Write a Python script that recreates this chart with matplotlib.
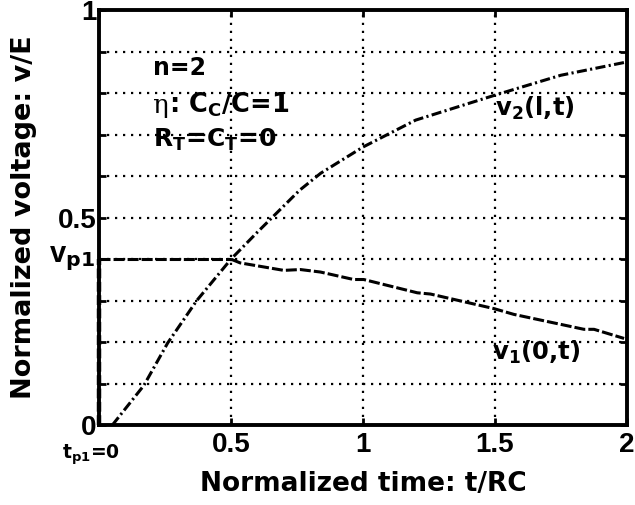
import numpy as np
import matplotlib
matplotlib.use("Agg")
import matplotlib.pyplot as plt
import matplotlib.transforms as mtransforms

# ---------------- DATA ----------------
# v2(l,t): far-end voltage
t_v2 = [0.05, 0.10, 0.17, 0.26, 0.37, 0.50, 0.60, 0.76, 0.84, 1.00, 1.20, 1.50, 1.75, 2.00]
v_v2 = [0.000, 0.040, 0.096, 0.198, 0.300, 0.400, 0.465, 0.566, 0.607, 0.670, 0.735, 0.795, 0.843, 0.875]

# v1(0,t): near-end voltage
t_v1 = [0.50, 0.535, 0.70, 0.763, 0.839, 0.965, 1.003, 1.206, 1.256, 1.496, 1.572, 1.838, 1.876, 1.99]
v_v1 = [0.400, 0.391, 0.373, 0.375, 0.369, 0.351, 0.351, 0.319, 0.316, 0.281, 0.267, 0.231, 0.231, 0.209]

t_p1 = 0.0
v_p1 = 0.4
t_cross = 0.5

x_ticks = [0, 0.5, 1, 1.5, 2]
x_ticklabels = ["", "0.5", "1", "1.5", "2"]
y_ticks = [0, 0.1, 0.2, 0.3, 0.4, 0.5, 0.6, 0.7, 0.8, 0.9, 1.0]
y_ticklabels = ["0", "", "", "", "", "0.5", "", "", "", "", "1"]
# --------------------------------------

plt.rcParams["font.family"] = ["Liberation Sans", "DejaVu Sans"]
plt.rcParams["font.weight"] = "bold"
plt.rcParams["mathtext.fontset"] = "custom"
plt.rcParams["mathtext.rm"] = "DejaVu Sans:bold"
plt.rcParams["mathtext.it"] = "DejaVu Sans:bold"
plt.rcParams["mathtext.bf"] = "DejaVu Sans:bold"

wide = ["DejaVu Sans"]

fig = plt.figure(figsize=(6.35, 5.05), dpi=100)
ax = fig.add_axes([0.156, 0.158, 0.831, 0.822])

# curves
ax.plot(t_v2, v_v2, color="black", lw=2.2, ls=(0, (3.3, 1.1, 0.7, 1.1)), zorder=3)
ax.plot([t_p1, t_cross], [v_p1, v_p1], color="black", lw=2.2, ls=(0, (3.6, 1)), zorder=3)
ax.plot(t_v1, v_v1, color="black", lw=2.2, ls=(0, (3.6, 1)), zorder=3)
ax.plot([t_p1, t_p1], [0, v_p1], color="black", lw=3.2, ls=(0, (2.2, 0.8)), zorder=4, clip_on=False)

ax.set_xlim(0, 2)
ax.set_ylim(0, 1)
ax.set_xticks(x_ticks)
ax.set_xticklabels(x_ticklabels)
ax.set_yticks(y_ticks)
ax.set_yticklabels(y_ticklabels)
ax.tick_params(direction="in", length=5, width=2, labelsize=20, pad=5,
               top=True, right=True)
ax.tick_params(axis="y", pad=2)
for lab in ax.get_xticklabels() + ax.get_yticklabels():
    lab.set_fontweight("bold")

ax.grid(True, color="black", ls=(0, (1, 2.6)), lw=1.6)
for s in ax.spines.values():
    s.set_linewidth(2.8)

ax.set_xlabel("Normalized time: t/RC", fontsize=19, fontweight="bold",
              family=wide, labelpad=9)
ax.set_ylabel("Normalized voltage: v/E", fontsize=19.5, fontweight="bold",
              family=wide, labelpad=15)

# v_p1 and t_p1 markers on the axes
yaxis_tf = mtransforms.blended_transform_factory(ax.transAxes, ax.transData)
ax.text(-0.008, v_p1, "v$_{p1}$", fontsize=21, fontweight="bold",
        transform=yaxis_tf, ha="right", va="center")
ax.text(t_p1 - 0.03, -0.042, "t$_{p1}$=0", fontsize=13.5, fontweight="bold",
        family=wide, ha="center", va="top")

# parameter notes
ax.text(0.205, 0.861, "n=2", fontsize=17, fontweight="bold", family=wide, va="center")
ax.text(0.20, 0.771, "η", fontsize=19, fontweight="normal", family="DejaVu Serif",
        va="center")
ax.text(0.265, 0.771, ": C$_C$/C=1", fontsize=18.5, fontweight="bold", family=wide,
        va="center")
ax.text(0.205, 0.687, "R$_T$=C$_T$=0", fontsize=18, fontweight="bold", family=wide,
        va="center")

# curve labels
ax.text(1.50, 0.764, "v$_2$(l,t)", fontsize=17.5, fontweight="bold", family=wide,
        va="center")
ax.text(1.49, 0.176, "v$_1$(0,t)", fontsize=17.5, fontweight="bold", family=wide,
        va="center")

fig.savefig("out.png", dpi=100)
